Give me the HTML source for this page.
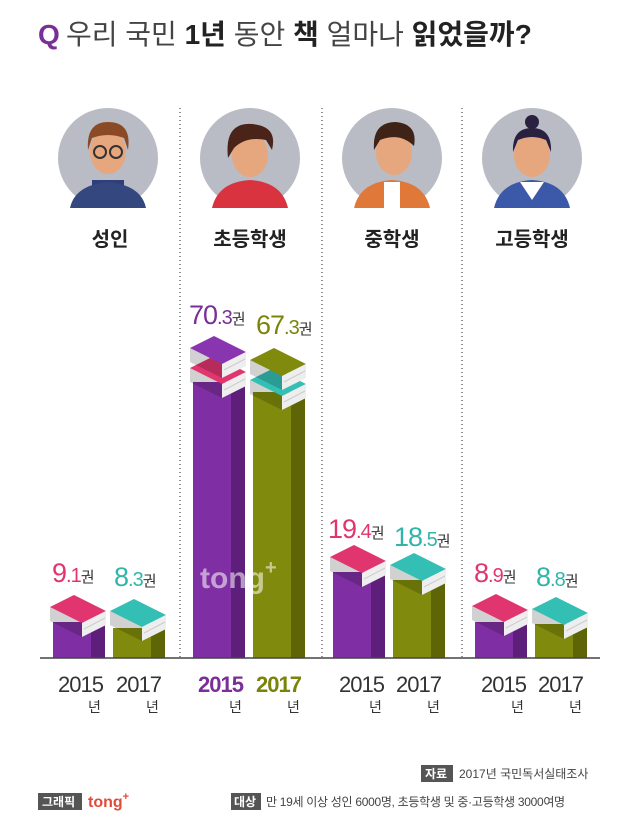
<!DOCTYPE html><html><head><meta charset="utf-8"><style>
body{margin:0;background:#fff}
text{font-family:"Liberation Sans","Noto Sans CJK KR",sans-serif}
</style></head><body>
<svg width="640" height="820" viewBox="0 0 640 820" xmlns="http://www.w3.org/2000/svg">
<defs>
<g id="bk"><polygon points="0,12 24,0 56,16 32,28"/><polygon points="0,12 32,28 32,42 0,26" fill="#000" opacity="0.18"/><polygon points="32,28 56,16 56,30 32,42" fill="#eee"/><line x1="34" y1="34" x2="55" y2="23" stroke="#ccc"/></g>
</defs>
<text x="38" y="44" font-size="28" fill="#7a2f96" font-weight="bold">Q</text>
<text x="66" y="44" font-size="28" fill="#444">우리 국민 <tspan font-weight="bold" fill="#222">1년</tspan> 동안 <tspan font-weight="bold" fill="#222">책</tspan> 얼마나 <tspan font-weight="bold" fill="#222">읽었을까?</tspan></text>
<g stroke="#555" stroke-dasharray="1,3" stroke-width="1.3">
<line x1="180" y1="108" x2="180" y2="658"/><line x1="322" y1="108" x2="322" y2="658"/><line x1="462" y1="108" x2="462" y2="658"/></g>
<g>
<circle cx="108" cy="158" r="50" fill="#b9bcc4"/><rect x="92" y="180" width="32" height="28" fill="#2e3f7a"/><path d="M70 208 Q75 185 108 182 Q141 185 146 208Z" fill="#34477f"/><ellipse cx="108" cy="152" rx="18" ry="22" fill="#e7a77e"/><path d="M88 150 Q86 122 108 122 Q132 122 128 150 L124 138 Q108 132 92 138Z" fill="#8b4a26"/><circle cx="100" cy="152" r="6" fill="none" stroke="#333" stroke-width="2"/><circle cx="116" cy="152" r="6" fill="none" stroke="#333" stroke-width="2"/>
<circle cx="250" cy="158" r="50" fill="#b9bcc4"/><path d="M212 208 Q218 182 250 180 Q282 182 288 208Z" fill="#d8333f"/><ellipse cx="250" cy="155" rx="18" ry="22" fill="#e7a77e"/><path d="M228 158 Q224 122 252 124 Q278 126 272 150 L266 140 Q246 136 234 148Z" fill="#4a2418"/>
<circle cx="392" cy="158" r="50" fill="#b9bcc4"/><path d="M354 208 Q360 182 392 180 Q424 182 430 208Z" fill="#e0783a"/><rect x="384" y="182" width="16" height="26" fill="#fff"/><ellipse cx="394" cy="153" rx="18" ry="22" fill="#e7a77e"/><path d="M374 150 Q372 122 396 122 Q418 124 414 146 Q400 132 380 140Z" fill="#3e2316"/>
<circle cx="532" cy="158" r="50" fill="#b9bcc4"/><path d="M494 208 Q500 182 532 180 Q564 182 570 208Z" fill="#3c58a8"/><path d="M520 182 L532 200 L544 182Z" fill="#fff"/><ellipse cx="532" cy="155" rx="18" ry="22" fill="#e7a77e"/><circle cx="532" cy="122" r="7" fill="#2a2040"/><path d="M513 152 Q512 128 532 128 Q552 128 551 152 L546 140 Q532 134 518 140Z" fill="#2a2040"/>
</g>
<g font-size="20" fill="#222" text-anchor="middle" font-weight="bold">
<text x="110" y="246">성인</text><text x="250" y="246">초등학생</text><text x="392" y="246">중학생</text><text x="532" y="246">고등학생</text></g>
<g>
<rect x="53" y="622" width="38" height="36" fill="#7f2fa3"/><polygon points="91,622 105,615 105,658 91,658" fill="#5d1f7a"/>
<use href="#bk" x="50" y="595" fill="#e0356e"/>
<rect x="113" y="628" width="38" height="30" fill="#808a0c"/><polygon points="151,628 165,621 165,658 151,658" fill="#5e6506"/>
<use href="#bk" x="110" y="599" fill="#34bfb4"/>
<rect x="193" y="382" width="38" height="276" fill="#7f2fa3"/><polygon points="231,382 245,375 245,658 231,658" fill="#5d1f7a"/>
<use href="#bk" x="190" y="356" fill="#e0356e"/><use href="#bk" x="190" y="336" fill="#8a35b0"/>
<rect x="253" y="392" width="38" height="266" fill="#808a0c"/><polygon points="291,392 305,385 305,658 291,658" fill="#5e6506"/>
<use href="#bk" x="250" y="368" fill="#34bfb4"/><use href="#bk" x="250" y="348" fill="#808a0c"/>
<rect x="333" y="572" width="38" height="86" fill="#7f2fa3"/><polygon points="371,572 385,565 385,658 371,658" fill="#5d1f7a"/>
<use href="#bk" x="330" y="545" fill="#e0356e"/>
<rect x="393" y="580" width="38" height="78" fill="#808a0c"/><polygon points="431,580 445,573 445,658 431,658" fill="#5e6506"/>
<use href="#bk" x="390" y="553" fill="#34bfb4"/>
<rect x="475" y="622" width="38" height="36" fill="#7f2fa3"/><polygon points="513,622 527,615 527,658 513,658" fill="#5d1f7a"/>
<use href="#bk" x="472" y="594" fill="#e0356e"/>
<rect x="535" y="624" width="38" height="34" fill="#808a0c"/><polygon points="573,624 587,617 587,658 573,658" fill="#5e6506"/>
<use href="#bk" x="532" y="597" fill="#34bfb4"/>
</g>
<text x="200" y="588" font-size="30" font-weight="bold" fill="#fff" opacity="0.55">tong<tspan font-size="20" dy="-14">+</tspan></text>
<line x1="40" y1="658" x2="600" y2="658" stroke="#444" stroke-width="1.5"/>
<g font-size="27" letter-spacing="-1">
<text x="52" y="582" fill="#e0356e">9<tspan font-size="20">.1</tspan><tspan font-size="15" fill="#333">권</tspan></text>
<text x="114" y="586" fill="#30b5aa">8<tspan font-size="20">.3</tspan><tspan font-size="15" fill="#333">권</tspan></text>
<text x="189" y="324" fill="#7a2f96">70<tspan font-size="20">.3</tspan><tspan font-size="15" fill="#333">권</tspan></text>
<text x="256" y="334" fill="#7a840a">67<tspan font-size="20">.3</tspan><tspan font-size="15" fill="#333">권</tspan></text>
<text x="328" y="538" fill="#e0356e">19<tspan font-size="20">.4</tspan><tspan font-size="15" fill="#333">권</tspan></text>
<text x="394" y="546" fill="#30b5aa">18<tspan font-size="20">.5</tspan><tspan font-size="15" fill="#333">권</tspan></text>
<text x="474" y="582" fill="#e0356e">8<tspan font-size="20">.9</tspan><tspan font-size="15" fill="#333">권</tspan></text>
<text x="536" y="586" fill="#30b5aa">8<tspan font-size="20">.8</tspan><tspan font-size="15" fill="#333">권</tspan></text>
</g>
<g font-size="22" fill="#333" letter-spacing="-1">
<text x="58" y="692">2015</text><text x="116" y="692">2017</text>
<text x="198" y="692" fill="#7a2f96" font-weight="bold">2015</text><text x="256" y="692" fill="#7a840a" font-weight="bold">2017</text>
<text x="339" y="692">2015</text><text x="396" y="692">2017</text>
<text x="481" y="692">2015</text><text x="538" y="692">2017</text>
</g>
<g font-size="14" fill="#333">
<text x="88" y="712">년</text><text x="146" y="712">년</text><text x="229" y="712">년</text><text x="287" y="712">년</text>
<text x="369" y="712">년</text><text x="427" y="712">년</text><text x="511" y="712">년</text><text x="569" y="712">년</text></g>
<rect x="421" y="765" width="32" height="17" fill="#555"/><text x="425" y="778" font-size="12" fill="#fff" font-weight="bold">자료</text>
<text x="459" y="778" font-size="12" fill="#444">2017년 국민독서실태조사</text>
<rect x="38" y="793" width="44" height="17" fill="#555"/><text x="42" y="806" font-size="12" fill="#fff" font-weight="bold">그래픽</text>
<text x="88" y="807" font-size="16" fill="#e24a3a" font-weight="bold">tong<tspan font-size="11" dy="-7">+</tspan></text>
<rect x="231" y="793" width="30" height="17" fill="#555"/><text x="234" y="806" font-size="12" fill="#fff" font-weight="bold">대상</text>
<text x="266" y="806" font-size="12" fill="#444" letter-spacing="-0.3">만 19세 이상 성인 6000명, 초등학생 및 중·고등학생 3000여명</text>
</svg>
</body></html>
